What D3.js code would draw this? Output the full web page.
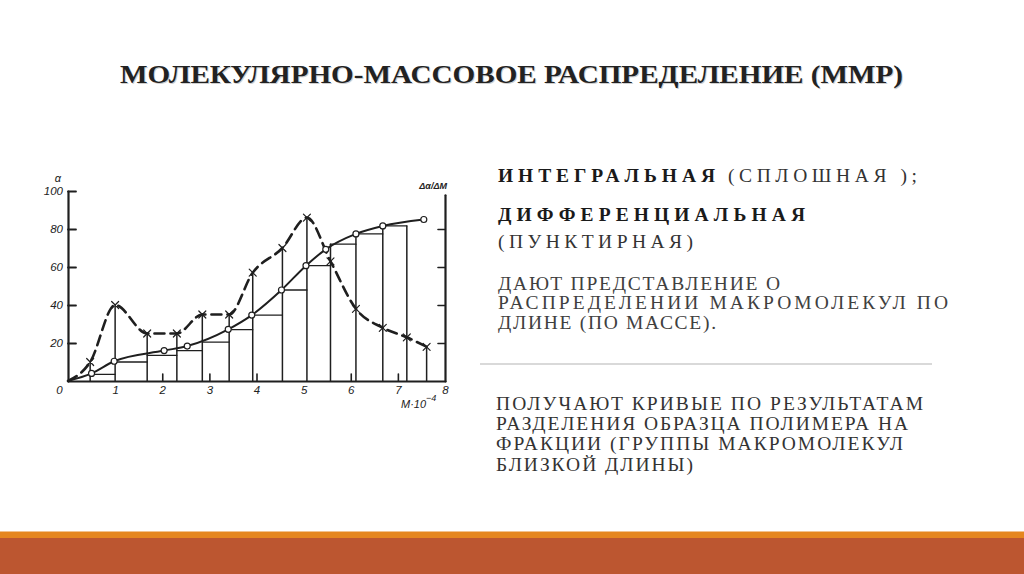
<!DOCTYPE html>
<html>
<head>
<meta charset="utf-8">
<script src="https://cdn.jsdelivr.net/npm/d3@7"></script>
<style>
  html, body { margin: 0; padding: 0; background: #fff; }
  svg { display: block; }
  .serif { font-family: 'Liberation Serif', 'Times New Roman', Times, Tinos, 'DejaVu Serif', 'Noto Serif', 'FreeSerif', serif; }
  .axis-font { font-family: 'Liberation Sans', Arial, sans-serif; font-style: italic; }
</style>
</head>
<body>
<svg id="slide"></svg>
<script>
// fraction boundaries, M·10^-4
var edges = [0.47, 1.00, 1.68, 2.31, 2.85, 3.42, 3.92, 4.55, 5.07, 5.57, 6.11, 6.68, 7.19, 7.61];
// integral steps (bar tops between edges)
var barTops = [3.5, 10, 13.5, 16, 20.5, 27, 34.7, 47.9, 60.7, 72, 77.4, 81.6];
// differential curve (dashed), at 0 and at each edge
var diffX = [0, 0.47, 1.00, 1.68, 2.31, 2.85, 3.42, 3.92, 4.55, 5.07, 5.57, 6.11, 6.68, 7.19, 7.61];
var diffY = [0, 10, 40, 25, 25, 35, 35, 57, 70, 86, 63, 38, 28, 23, 18];
// integral curve (solid)
var intX = [0, 0.50, 0.98, 2.04, 2.53, 3.40, 3.90, 4.53, 5.05, 5.47, 6.11, 6.68, 7.55];
var intY = [0, 4, 10.4, 16, 18.4, 27.2, 34.7, 47.9, 60.7, 69.3, 77.4, 81.6, 85];

var xTicks = [0, 1, 2, 3, 4, 5, 6, 7, 8];
var yTicks = [20, 40, 60, 80, 100];
var rightTicks = [20, 40, 60, 80];

var title = 'МОЛЕКУЛЯРНО-МАССОВОЕ РАСПРЕДЕЛЕНИЕ (ММР)';
var topLines = ['ДАЮТ ПРЕДСТАВЛЕНИЕ О', 'РАСПРЕДЕЛЕНИИ МАКРОМОЛЕКУЛ ПО', 'ДЛИНЕ (ПО МАССЕ).'];
var bottomLines = ['ПОЛУЧАЮТ КРИВЫЕ ПО РЕЗУЛЬТАТАМ', 'РАЗДЕЛЕНИЯ ОБРАЗЦА ПОЛИМЕРА НА', 'ФРАКЦИИ (ГРУППЫ МАКРОМОЛЕКУЛ', 'БЛИЗКОЙ ДЛИНЫ)'];

var W = 1024, H = 574;
var ink = '#1f1f1f';

var svg = d3.select('#slide')
  .attr('width', W)
  .attr('height', H);

svg.append('rect').attr('width', W).attr('height', H).attr('fill', '#fff');

// title with soft shadow
[['#cfcfcf', 1], ['#222', 0]].forEach(s => {
  svg.append('text')
    .attr('class', 'serif')
    .attr('x', 120 + s[1]).attr('y', 83 + s[1])
    .attr('textLength', 783).attr('lengthAdjust', 'spacingAndGlyphs')
    .attr('font-weight', 'bold').attr('font-size', 25)
    .attr('fill', s[0])
    .text(title);
});

// ---- chart ----
var x = d3.scaleLinear().domain([0, 8]).range([68, 445]);
var y = d3.scaleLinear().domain([0, 100]).range([381, 191]);
var yR = y.copy().domain([0, 98]).range([y(0), y(98)]);

var chart = svg.append('g')
  .attr('stroke-linecap', 'round');

// vertical lines at fraction boundaries
var vHeight = (i) => {
  var h = diffY[i + 1];
  if (i > 0 && i - 1 < barTops.length) h = Math.max(h, barTops[i - 1]);
  if (i < barTops.length) h = Math.max(h, barTops[i]);
  return h;
};

chart.selectAll('.vline')
  .data(edges)
  .enter().append('line')
    .attr('class', 'vline')
    .attr('x1', d => x(d)).attr('x2', d => x(d))
    .attr('y1', y(0))
    .attr('y2', (d, i) => y(vHeight(i)))
    .attr('stroke', ink).attr('stroke-width', 1.5);

// step tops
chart.selectAll('.step')
  .data(barTops)
  .enter().append('line')
    .attr('class', 'step')
    .attr('x1', (d, i) => x(edges[i])).attr('x2', (d, i) => x(edges[i + 1]))
    .attr('y1', d => y(d)).attr('y2', d => y(d))
    .attr('stroke', ink).attr('stroke-width', 1.3);

// axes
var fontAxis = (g) => g.selectAll('text')
  .attr('class', 'axis-font')
  .attr('font-size', 11.5)
  .attr('fill', '#222');

var xAxis = chart.append('g')
  .attr('transform', `translate(0, ${ y(0) })`)
  .call(d3.axisBottom(x).tickValues(xTicks).tickSizeInner(-7).tickSizeOuter(0).tickPadding(5));
xAxis.call(fontAxis);
xAxis.select('.domain').attr('stroke', ink).attr('stroke-width', 2.2);
xAxis.selectAll('.tick line').attr('stroke', ink).attr('stroke-width', 1.6)
  .attr('opacity', d => [0, 1, 5, 8].includes(d) ? 0 : 1);
xAxis.selectAll('.tick text').filter(d => d === 0).attr('x', -9);

var yAxis = chart.append('g')
  .attr('transform', `translate(${ x(0) }, 0)`)
  .call(d3.axisLeft(y).tickValues(yTicks).tickSizeInner(-8).tickSizeOuter(0).tickPadding(5));
yAxis.call(fontAxis);
yAxis.select('.domain').attr('stroke', ink).attr('stroke-width', 2.2);
yAxis.selectAll('.tick line').attr('stroke', ink).attr('stroke-width', 1.8);

var rAxis = chart.append('g')
  .attr('transform', `translate(${ x(8) }, 0)`)
  .call(d3.axisLeft(yR).tickValues(rightTicks).tickSizeInner(7).tickSizeOuter(0).tickFormat(''));
rAxis.select('.domain').attr('stroke', ink).attr('stroke-width', 2.2);
rAxis.selectAll('.tick line').attr('stroke', ink).attr('stroke-width', 1.6);

// axis captions
var cap = (tx, ty, anchor, size) => chart.append('text')
  .attr('class', 'axis-font')
  .attr('x', tx).attr('y', ty)
  .attr('text-anchor', anchor)
  .attr('font-size', size)
  .attr('fill', '#222');

cap(x(0) - 10, y(100) - 9, 'middle', 11).text('α');
cap(x(8) + 2, y(98) - 6, 'end', 9).attr('font-weight', 'bold').text('Δα/ΔM');
var mLabel = cap(x(8) - 44, y(0) + 27, 'start', 11);
mLabel.append('tspan').text('M·10');
mLabel.append('tspan').attr('dy', -7).attr('font-size', 9).text('−4');

// differential (dashed)
var diffPts = diffX.map((d, i) => [d, diffY[i]]);
var intPts = intX.map((d, i) => [d, intY[i]]);

var line = d3.line()
  .x(d => x(d[0]))
  .y(d => y(d[1]))
  .curve(d3.curveMonotoneX);

chart.append('path')
  .attr('d', line(diffPts))
  .attr('fill', 'none')
  .attr('stroke', ink).attr('stroke-width', 2.6)
  .attr('stroke-dasharray', '10,6');

chart.append('path')
  .attr('d', line(intPts))
  .attr('fill', 'none')
  .attr('stroke', ink).attr('stroke-width', 2);

// crosses on dashed curve
var cr = 3.5;
chart.selectAll('.cross')
  .data(diffPts.slice(1))
  .enter().append('path')
    .attr('class', 'cross')
    .attr('d', d => {
      var cx = x(d[0]), cy = y(d[1]);
      return `M${cx - cr},${cy - cr}L${cx + cr},${cy + cr}M${cx - cr},${cy + cr}L${cx + cr},${cy - cr}`;
    })
    .attr('stroke', ink).attr('stroke-width', 1.2);

// circles on solid curve
chart.selectAll('.dot')
  .data(intPts.slice(1))
  .enter().append('circle')
    .attr('class', 'dot')
    .attr('cx', d => x(d[0])).attr('cy', d => y(d[1]))
    .attr('r', 3)
    .attr('fill', '#fff')
    .attr('stroke', ink).attr('stroke-width', 1.2);

// ---- right text ----
var putText = (tx, ty, len, txt) => svg.append('text')
  .attr('class', 'serif')
  .attr('x', tx).attr('y', ty)
  .attr('textLength', len).attr('lengthAdjust', 'spacing')
  .attr('font-size', 19.5)
  .attr('fill', '#333')
  .text(txt);

putText(498, 182, 217, 'ИНТЕГРАЛЬНАЯ').attr('font-weight', 'bold').attr('fill', '#1a1a1a');
putText(728, 182, 189, '(СПЛОШНАЯ );');
putText(498, 221, 307, 'ДИФФЕРЕНЦИАЛЬНАЯ').attr('font-weight', 'bold').attr('fill', '#1a1a1a');
putText(498, 248, 195, '(ПУНКТИРНАЯ)');

var topWidths = [282, 450, 218];
topLines.forEach((d, i) => putText(498, 290 + i * 19.3, topWidths[i], d).attr('fill', '#404040'));

svg.append('line')
  .attr('x1', 480).attr('x2', 932)
  .attr('y1', 364).attr('y2', 364)
  .attr('stroke', '#d9d9d9').attr('stroke-width', 2);

var bottomWidths = [427, 412, 407, 197];
bottomLines.forEach((d, i) => putText(496, 410 + i * 20.2, bottomWidths[i], d));

// ---- footer band ----
svg.append('rect').attr('x', 0).attr('y', 531.5).attr('width', W).attr('height', 6.5).attr('fill', '#e5861f');
svg.append('rect').attr('x', 0).attr('y', 538).attr('width', W).attr('height', H - 538).attr('fill', '#bc5630');
</script>
</body>
</html>
